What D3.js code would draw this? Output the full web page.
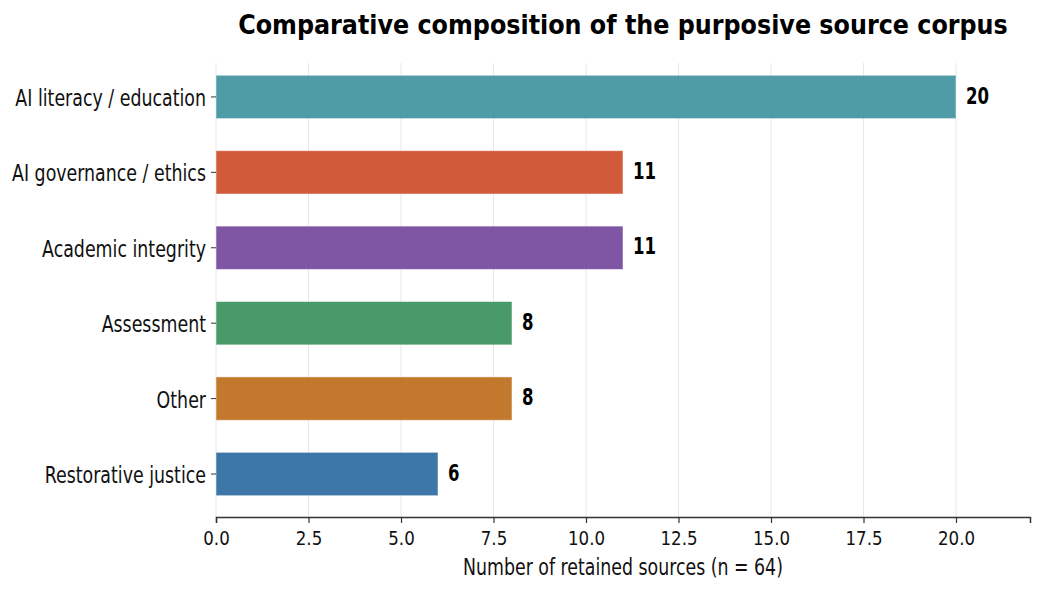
<!DOCTYPE html>
<html>
<head>
<meta charset="utf-8">
<script src="https://cdn.jsdelivr.net/npm/d3@7"></script>
<style>
  body { margin: 0; background: #fff; }
  text { font-family: "DejaVu Sans Condensed", "DejaVu Sans", sans-serif; }
</style>
</head>
<body>
<div id="chart"></div>
<script>
// --- Données ---
const categories = ["AI literacy / education", "AI governance / ethics", "Academic integrity", "Assessment", "Other", "Restorative justice"];
const counts = [20, 11, 11, 8, 8, 6];
const barColors = ["#40929e", "#cc4c29", "#73489c", "#3a915b", "#bd6e1b", "#2d6ba0"];
const xTicks = [0, 2.5, 5, 7.5, 10, 12.5, 15, 17.5, 20];

const width = 1044, height = 595;
const plotLeft = 216, plotRight = 1030, plotTop = 63, plotBottom = 517;
const squeeze = 0.86; // texte un peu étroit comme dans l'original

const svg = d3.select("#chart").append("svg")
  .attr("width", width)
  .attr("height", height);

const x = d3.scaleLinear().domain([0, 22]).range([plotLeft, plotRight]);
const y = d3.scaleLinear().domain([-0.45, 5.57]).range([plotTop, plotBottom]);
const barH = 0.575;

// --- Grille verticale ---
svg.append("g").selectAll("line")
  .data(xTicks)
  .join("line")
  .attr("x1", d => x(d)).attr("x2", d => x(d))
  .attr("y1", plotTop).attr("y2", plotBottom)
  .attr("stroke", "#e6e6e6")
  .attr("stroke-width", 1);

// --- Barres ---
svg.append("g").selectAll("rect")
  .data(counts)
  .join("rect")
  .attr("x", x(0))
  .attr("y", (d, i) => y(i - barH / 2))
  .attr("width", d => x(d) - x(0))
  .attr("height", y(barH) - y(0))
  .attr("fill", (d, i) => barColors[i])
  .attr("fill-opacity", 0.92)
  .attr("stroke", "#ffffff")
  .attr("stroke-opacity", 0.5)
  .attr("stroke-width", 1);

// --- Valeurs ---
svg.append("g").selectAll("text")
  .data(counts)
  .join("text")
  .attr("transform", (d, i) => `translate(${x(d) + 10},${y(i)}) scale(0.8,1)`)
  .attr("dy", "0.29em")
  .style("font-size", "23px")
  .style("font-weight", "bold")
  .text(d => d);

// --- Axe X ---
const xAxis = svg.append("g")
  .attr("transform", `translate(0,${plotBottom})`)
  .call(d3.axisBottom(x).tickValues(xTicks).tickFormat(d3.format(".1f")).tickSize(6).tickPadding(6));
xAxis.select(".domain").attr("stroke", "#333").attr("stroke-width", 1.5);
xAxis.selectAll(".tick line").attr("stroke", "#333").attr("stroke-width", 1.2);
xAxis.selectAll(".tick text")
  .attr("transform", "scale(0.95,1)")
  .attr("y", 14)
  .attr("dy", "0.71em")
  .style("font-size", "19.5px")
  .style("font-family", "'DejaVu Sans Condensed', 'DejaVu Sans', sans-serif")
  .attr("fill", "#111");

// --- Axe Y (étiquettes) ---
const yAxis = svg.append("g")
  .attr("transform", `translate(${plotLeft},0)`);
yAxis.selectAll("line")
  .data(categories)
  .join("line")
  .attr("x1", -5).attr("x2", 0)
  .attr("y1", (d, i) => y(i)).attr("y2", (d, i) => y(i))
  .attr("stroke", "#333");
yAxis.selectAll("text")
  .data(categories)
  .join("text")
  .attr("transform", (d, i) => `translate(-10,${y(i)}) scale(${squeeze},1)`)
  .attr("dy", "0.4em")
  .attr("text-anchor", "end")
  .style("font-size", "22.5px")
  .attr("fill", "#111")
  .text(d => d);

// --- Titres ---
svg.append("text")
  .attr("x", (plotLeft + plotRight) / 2)
  .attr("y", 34)
  .attr("text-anchor", "middle")
  .style("font-size", "26.5px")
  .style("font-weight", "bold")
  .text("Comparative composition of the purposive source corpus");

svg.append("text")
  .attr("transform", `translate(${(plotLeft + plotRight) / 2},575) scale(0.84,1)`)
  .attr("text-anchor", "middle")
  .style("font-size", "23px")
  .attr("fill", "#111")
  .text("Number of retained sources (n = 64)");
</script>
</body>
</html>
